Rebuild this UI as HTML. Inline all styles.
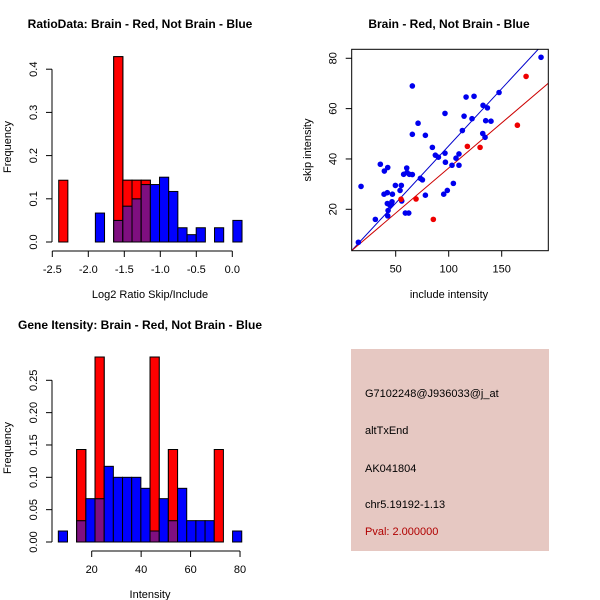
<!DOCTYPE html>
<html><head><meta charset="utf-8"><style>
html,body{margin:0;padding:0;background:#fff;}
svg{display:block;font-family:"Liberation Sans",sans-serif;}
</style></head><body>
<svg id="c" width="600" height="600" viewBox="0 0 600 600">
<rect width="600" height="600" fill="#fff"/>
<text x="140" y="28" font-size="12" font-weight="bold" text-anchor="middle">RatioData: Brain - Red, Not Brain - Blue</text>
<text x="449" y="28" font-size="12" font-weight="bold" text-anchor="middle">Brain - Red, Not Brain - Blue</text>
<text x="140" y="329" font-size="12" font-weight="bold" text-anchor="middle">Gene Itensity: Brain - Red, Not Brain - Blue</text>
<text x="150" y="298" font-size="11" text-anchor="middle">Log2 Ratio Skip/Include</text>
<text transform="translate(11,147) rotate(-90)" font-size="11" text-anchor="middle">Frequency</text>
<text x="449" y="298" font-size="11" text-anchor="middle">include intensity</text>
<text transform="translate(311,150) rotate(-90)" font-size="11" text-anchor="middle">skip intensity</text>
<text x="150" y="598" font-size="11" text-anchor="middle">Intensity</text>
<text transform="translate(11,448) rotate(-90)" font-size="11" text-anchor="middle">Frequency</text>
<g>
<rect x="351" y="349" width="198" height="202" fill="#e6c8c2"/>
<text x="365" y="397" font-size="11">G7102248@J936033@j_at</text>
<text x="365" y="434" font-size="11">altTxEnd</text>
<text x="365" y="472" font-size="11">AK041804</text>
<text x="365" y="508" font-size="11">chr5.19192-1.13</text>
<text x="365" y="535" font-size="11" fill="#b00000">Pval: 2.000000</text>
</g>
<g id="g1"></g>
<g id="g2"></g>
<g id="g3"></g>
</svg>
<script>
// Ratio histogram data
const ratioBinStart = -2.411;
const ratioBinWidth = 0.1273;
const ratioRed  = [0.143,0,0,0,0,0,0.429,0.143,0.143,0.143,0,0,0,0,0,0,0,0,0,0];
const ratioBlue = [0,0,0,0,0.067,0,0.05,0.083,0.1,0.133,0.133,0.15,0.117,0.033,0.017,0.033,0,0.033,0,0.05];
const ratioXTicks = [-2.5,-2.0,-1.5,-1.0,-0.5,0.0];
const ratioXLabels = ["-2.5","-2.0","-1.5","-1.0","-0.5","0.0"];
const ratioYTicks = [0,0.1,0.2,0.3,0.4];
const ratioYLabels = ["0.0","0.1","0.2","0.3","0.4"];

// Intensity histogram data
const intBinStart = 6.5;
const intBinWidth = 3.71;
const intRed  = [0,0,0.143,0,0.286,0,0,0,0,0,0.286,0,0.143,0,0,0,0,0.143,0,0];
const intBlue = [0.017,0,0.033,0.067,0.067,0.117,0.1,0.1,0.1,0.083,0.017,0.067,0.033,0.083,0.033,0.033,0.033,0,0,0.017];
const intXTicks = [20,40,60,80];
const intYTicks = [0,0.05,0.10,0.15,0.20,0.25];
const intYLabels = ["0.00","0.05","0.10","0.15","0.20","0.25"];

// Scatter data
const blueInclude = [14.8,17.3,30.8,35.5,39.3,39.0,42.5,42.1,42.1,42.8,42.5,44.7,45.9,46.9,46.5,49.7,54.1,55.3,55.7,57.5,59.1,60.7,62.3,60.4,62.9,65.7,65.7,65.7,71.1,73.3,75.2,78.0,78.0,84.6,87.4,90.3,95.3,96.5,96.9,96.5,98.7,103.1,104.4,106.9,109.7,109.7,112.9,114.5,116.4,122.0,123.9,132.1,132.4,134.9,136.5,134.3,139.9,147.5,187.1];
const blueSkip    = [6.9,29.1,16.0,37.9,35.2,26.0,36.6,26.6,22.3,19.5,17.4,21.5,22.1,26.0,23.0,29.5,27.5,29.5,23.3,33.9,18.5,34.6,18.5,36.4,33.9,49.8,33.8,69.0,54.2,32.3,31.7,49.4,25.6,44.6,41.5,40.7,26.0,58.1,38.7,42.3,27.5,37.5,30.3,40.3,42.0,37.5,51.3,57.0,64.6,56.0,64.9,50.1,61.3,55.2,60.3,48.6,55.0,66.4,80.4];
const redInclude  = [55.0,69.2,85.5,117.6,129.6,164.8,173.0];
const redSkip     = [24.0,24.1,16.0,45.0,44.6,53.4,72.8];
const blueFit = [-0.26,0.4545]; // intercept, slope
const redFit  = [0.55,0.3585];
const scXTicks = [50,100,150];
const scYTicks = [20,40,60,80];

const NS="http://www.w3.org/2000/svg";
function mk(parent,tag,attrs){const e=document.createElementNS(NS,tag);for(const k in attrs)e.setAttribute(k,attrs[k]);parent.appendChild(e);return e;}

function drawHist(g,o){
  const sx=v=>o.x0px+(v-o.x0v)*o.xs, sy=v=>o.y0px-v*o.ys;
  for(let i=0;i<o.red.length;i++){
    const a=o.start+i*o.w,b=a+o.w,r=o.red[i],bl=o.blue[i];
    if(r>0){const e=mk(g,'rect',{x:sx(a),y:sy(r),width:sx(b)-sx(a),height:sy(0)-sy(r),fill:'#ff0000',stroke:'#000','stroke-width':1});
      
      }
    if(bl>0){const e=mk(g,'rect',{x:sx(a),y:sy(bl),width:sx(b)-sx(a),height:sy(0)-sy(bl),fill:'#0000ff',stroke:'#000','stroke-width':1});
      
      }
    if(r>0&&bl>0){const m=Math.min(r,bl);
      const e=mk(g,'rect',{x:sx(a),y:sy(m),width:sx(b)-sx(a),height:sy(0)-sy(m),fill:'#7f0f80',stroke:'#000','stroke-width':1});
      
      
      if(r>bl){const e2=mk(g,'rect',{x:sx(a),y:sy(r),width:sx(b)-sx(a),height:sy(m)-sy(r),fill:'#ff0000',stroke:'#000','stroke-width':1});
        
        }}
  }
  const yl=o.yticks;
  mk(g,'line',{x1:o.axX,x2:o.axX,y1:sy(yl[0]),y2:sy(yl[yl.length-1]),stroke:'#000'});
  yl.forEach((v,i)=>{mk(g,'line',{x1:o.axX-6,x2:o.axX,y1:sy(v),y2:sy(v),stroke:'#000'});
    const t=mk(g,'text',{transform:`translate(${o.axX-15},${sy(v)}) rotate(-90)`,'font-size':11,'text-anchor':'middle'});t.textContent=o.ylabels[i];
    
    });
  const xl=o.xticks;
  mk(g,'line',{x1:sx(xl[0]),x2:sx(xl[xl.length-1]),y1:o.axY,y2:o.axY,stroke:'#000'});
  xl.forEach((v,i)=>{mk(g,'line',{x1:sx(v),x2:sx(v),y1:o.axY,y2:o.axY+6,stroke:'#000'});
    const t=mk(g,'text',{x:sx(v),y:o.axY+22,'font-size':11,'text-anchor':'middle'});t.textContent=o.xlabels[i];
    
    });
}

drawHist(document.getElementById('g1'),{start:ratioBinStart,w:ratioBinWidth,red:ratioRed,blue:ratioBlue,
  x0px:52.3,x0v:-2.5,xs:72,y0px:242,ys:432,axX:52,axY:251,
  xticks:ratioXTicks,xlabels:ratioXLabels,yticks:ratioYTicks,ylabels:ratioYLabels});
drawHist(document.getElementById('g3'),{start:intBinStart,w:intBinWidth,red:intRed,blue:intBlue,
  x0px:91.7,x0v:20,xs:2.472,y0px:542,ys:646.8,axX:52,axY:551,
  xticks:intXTicks,xlabels:intXTicks.map(String),yticks:intYTicks,ylabels:intYLabels});

(function(){
  const g=document.getElementById('g2');
  const sx=v=>395.7+(v-50)*1.06, sy=v=>209.3-(v-20)*2.517;
  const L=351.7,R=548.3,T=49.3,B=250.7;
  const cp=mk(g,'clipPath',{id:'scclip'});mk(cp,'rect',{x:L,y:T,width:R-L,height:B-T});
  const xa=(L-395.7)/1.06+50, xb=(R-395.7)/1.06+50;
  [[blueFit,'#0000cc','blue-fit-line'],[redFit,'#cc0000','red-fit-line']].forEach(([f,c,n])=>{
    const l=mk(g,'line',{x1:sx(xa),y1:sy(f[0]+f[1]*xa),x2:sx(xb),y2:sy(f[0]+f[1]*xb),stroke:c,'stroke-width':1,'clip-path':'url(#scclip)'});
    
    });
  blueInclude.forEach((v,i)=>{const c=mk(g,'circle',{cx:sx(v),cy:sy(blueSkip[i]),r:2.8,fill:'#0000ee'});
    
    });
  redInclude.forEach((v,i)=>{const c=mk(g,'circle',{cx:sx(v),cy:sy(redSkip[i]),r:2.8,fill:'#ee0000'});
    
    });
  const box=mk(g,'rect',{x:L,y:T,width:R-L,height:B-T,fill:'none',stroke:'#000'});
  
  
  scXTicks.forEach(v=>{mk(g,'line',{x1:sx(v),x2:sx(v),y1:B,y2:B+6,stroke:'#000'});
    const t=mk(g,'text',{x:sx(v),y:B+22,'font-size':11,'text-anchor':'middle'});t.textContent=String(v);
    
    });
  scYTicks.forEach(v=>{mk(g,'line',{x1:L-6,x2:L,y1:sy(v),y2:sy(v),stroke:'#000'});
    const t=mk(g,'text',{transform:`translate(${L-15},${sy(v)}) rotate(-90)`,'font-size':11,'text-anchor':'middle'});t.textContent=String(v);
    
    });
})();
</script>
</body></html>
